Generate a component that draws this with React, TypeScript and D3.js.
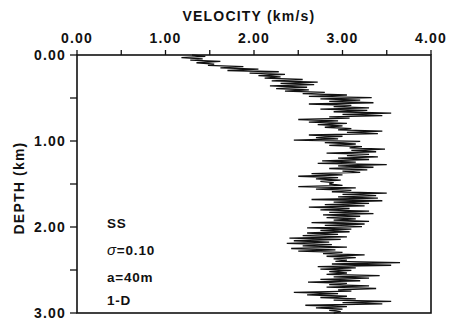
import React from 'react';
import * as d3 from 'd3';

// velocity log, sampled every DEPTH_STEP km from the surface down to 3 km
const DEPTH_STEP = 0.015;
const VELOCITY = [
  1.30, 1.45, 1.18, 1.42, 1.28, 1.62, 1.35, 1.55, 1.48, 1.88,
  1.62, 2.05, 1.70, 2.28, 1.95, 2.35, 2.05, 2.30, 2.12, 2.55,
  2.20, 2.72, 2.30, 2.68, 2.18, 2.60, 2.25, 2.62, 2.35, 2.80,
  2.55, 3.05, 2.62, 3.33, 2.75, 3.20, 2.85, 3.35, 2.62, 3.10,
  2.90, 3.30, 2.75, 3.28, 2.90, 3.55, 3.00, 3.45, 2.85, 3.08,
  2.50, 2.95, 2.62, 3.05, 2.72, 3.00, 2.80, 3.10, 2.95, 3.45,
  3.05, 3.40, 2.62, 3.00, 2.70, 2.95, 2.45, 3.20, 2.80, 3.15,
  2.85, 3.22, 3.08, 3.48, 3.10, 3.38, 2.82, 3.30, 3.05, 3.40,
  2.95, 3.30, 2.77, 3.15, 2.72, 3.50, 2.95, 3.35, 2.85, 3.28,
  3.00, 3.20, 2.65, 3.00, 2.50, 2.95, 2.70, 2.98, 2.75, 2.90,
  2.85, 3.00, 2.50, 3.15, 2.70, 3.10, 2.88, 3.50, 3.00, 3.38,
  2.95, 3.40, 2.65, 3.45, 2.90, 3.30, 2.80, 3.25, 2.62, 3.08,
  2.75, 3.30, 2.85, 3.35, 2.78, 3.20, 2.82, 3.15, 2.90, 3.30,
  2.65, 3.25, 2.80, 3.22, 2.60, 3.10, 2.75, 3.08, 2.60, 2.95,
  2.55, 3.05, 2.40, 2.98, 2.45, 2.85, 2.37, 2.88, 2.55, 3.05,
  2.42, 2.92, 2.50, 3.00, 2.78, 3.25, 2.82, 3.15, 2.90, 3.05,
  2.92, 3.65, 2.88, 3.55, 2.72, 3.15, 2.75, 3.10, 2.85, 3.05,
  2.82, 3.42, 2.90, 3.30, 2.75, 3.20, 2.61, 3.05, 2.85, 3.30,
  2.82, 3.38, 2.95, 3.10, 2.45, 2.95, 2.60, 3.05, 2.75, 3.15,
  2.90, 3.55, 3.00, 3.45, 2.58, 3.05, 2.70, 3.00, 2.85, 2.98,
  2.90,
];

const X_TICKS = [0, 0.5, 1, 1.5, 2, 2.5, 3, 3.5, 4];
const X_LABELS = [0, 1, 2, 3, 4];
const Y_TICKS = [0, 0.5, 1, 1.5, 2, 2.5, 3];
const Y_LABELS = [0, 1, 2, 3];
const NOTES = ['SS', 'σ=0.10', 'a=40m', '1-D'];

const FONT = '"Liberation Sans", Arial, sans-serif';

const App: React.FC = () => {
  const x = d3.scaleLinear().domain([0, 4]).range([77, 431]);
  const y = d3.scaleLinear().domain([0, 3]).range([55, 313]);

  const line = d3.line<number>()
    .x(v => x(v))
    .y((_, i) => y(i * DEPTH_STEP));

  const noteY = [228, 255, 282, 305];

  return (
    <svg
      width={450}
      height={327}
      viewBox="0 0 450 327"
      style={{ position: 'absolute', left: 0, top: 0, background: '#fff' }}
      fontFamily={FONT}
      fontWeight="bold"
    >
      <rect x={0} y={0} width={450} height={327} fill="#fff" />

      {/* trace */}
      <path d={line(VELOCITY) || ''} fill="none" stroke="#111" strokeWidth={1.3} strokeLinejoin="miter" />

      {/* frame */}
      <rect x={x(0)} y={y(0)} width={x(4) - x(0)} height={y(3) - y(0)} fill="none" stroke="#111" strokeWidth={1.6} />

      {/* top axis */}
      {X_TICKS.map(t => (
        <line key={`xt${t}`} x1={x(t)} x2={x(t)} y1={y(0) - 5} y2={y(0)} stroke="#111" strokeWidth={1.3} />
      ))}
      {X_LABELS.map(t => (
        <text key={`xl${t}`} x={x(t)} y={43} textAnchor="middle" fontSize={14} letterSpacing={1.2} fill="#111">
          {d3.format('.2f')(t)}
        </text>
      ))}
      <text x={249} y={21} textAnchor="middle" fontSize={14} letterSpacing={1.2} fill="#111">
        VELOCITY (km/s)
      </text>

      {/* left axis */}
      {Y_TICKS.map(t => (
        <line key={`yt${t}`} x1={x(0) - 7} x2={x(0)} y1={y(t)} y2={y(t)} stroke="#111" strokeWidth={1.3} />
      ))}
      {Y_LABELS.map(t => (
        <text key={`yl${t}`} x={66} y={y(t) + 5} textAnchor="end" fontSize={14} letterSpacing={1.2} fill="#111">
          {d3.format('.2f')(t)}
        </text>
      ))}
      <text
        transform={`translate(24, 188) rotate(-90)`}
        textAnchor="middle"
        fontSize={14}
        letterSpacing={1.2}
        fill="#111"
      >
        DEPTH (km)
      </text>

      {/* annotations */}
      {NOTES.map((n, i) => (
        <text key={n} x={107} y={noteY[i]} fontSize={13.5} letterSpacing={0.8} fill="#111">
          {n.startsWith('σ') ? (
            <>
              <tspan fontStyle="italic" fontWeight="normal" fontSize={15}>σ</tspan>
              {n.slice(1)}
            </>
          ) : n}
        </text>
      ))}
    </svg>
  );
};

export default App;
